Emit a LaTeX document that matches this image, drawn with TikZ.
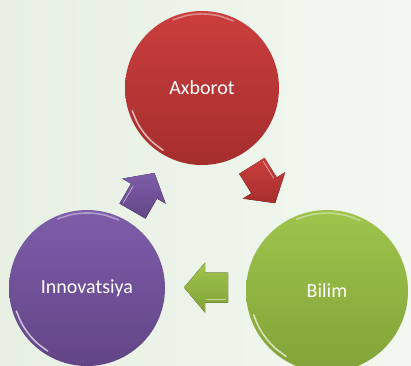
\documentclass[tikz,border=0pt]{standalone}
\usepackage{fontspec}
\setmainfont{Carlito}
\usetikzlibrary{calc}
\definecolor{axredtop}{HTML}{CA3E3D}
\definecolor{axredbot}{HTML}{A52E2D}
\definecolor{bilgreentop}{HTML}{9FC44C}
\definecolor{bilgreenbot}{HTML}{82A338}
\definecolor{innpurpletop}{HTML}{7E5DAA}
\definecolor{innpurplebot}{HTML}{624586}
\definecolor{bgleft}{HTML}{E7F0E3}
\definecolor{bgright}{HTML}{F2F8F0}
\tikzstyle{bubble}=[circle,draw=none,text=white,inner sep=0pt,font=\fontsize{20}{22}\selectfont]
\tikzstyle{glint}=[white,line width=1.6pt,opacity=0.65,line cap=round]
\newcommand{\drawblockarrow}[4]{% Syntax: {position} {angle} {top colour} {bottom colour}
\begin{scope}[shift={#1},rotate=#2]
	\fill[top color=#3,bottom color=#4] (22,0) -- (1,25) -- (1,15) -- (-22,15) -- (-22,-15) -- (1,-15) -- (1,-25) -- cycle;
	\draw[white,opacity=0.5,line width=0.8pt] (-20,-12) -- (0,-12);
\end{scope}
}
\newcommand{\drawglint}[1]{% glossy edge of a bubble, lower left and top
\foreach \a [count=\i] in {198,208,...,238}
	\coordinate (#1-lo\i) at ($(#1.center)!0.95!(#1.\a)$);
\foreach \a [count=\i] in {65,77,...,113}
	\coordinate (#1-hi\i) at ($(#1.center)!0.96!(#1.\a)$);
\draw[glint] plot[smooth] coordinates {(#1-lo1) (#1-lo2) (#1-lo3) (#1-lo4) (#1-lo5)};
\draw[glint,opacity=0.4] plot[smooth] coordinates {(#1-hi1) (#1-hi2) (#1-hi3) (#1-hi4) (#1-hi5)};
}

\begin{document}
\begin{tikzpicture}[x=1pt,y=-1pt]
	\useasboundingbox (0,0) rectangle (411,365);
	\shade[left color=bgleft,right color=bgright] (0,0) rectangle (411,365);
	% the three bubbles
	\node[bubble,minimum size=154pt,top color=axredtop,bottom color=axredbot] (axborot) at (202,88) {Axborot};
	\node[bubble,minimum size=162pt,top color=bilgreentop,bottom color=bilgreenbot] (bilim) at (327,291) {Bilim};
	\node[bubble,minimum size=156pt,top color=innpurpletop,bottom color=innpurplebot] (innovatsiya) at (87,288) {Innovatsiya};
	\drawglint{axborot}
	\drawglint{bilim}
	\drawglint{innovatsiya}
	% block arrows between them
	\drawblockarrow{($(axborot)!0.5!(bilim)+(-1,-5)$)}{-58}{axredtop}{axredbot}
	\drawblockarrow{($(bilim)!0.5!(innovatsiya)+(-1,-2)$)}{180}{bilgreentop}{bilgreenbot}
	\drawblockarrow{($(innovatsiya)!0.5!(axborot)+(-1,4)$)}{60}{innpurpletop}{innpurplebot}
\end{tikzpicture}
\end{document}
